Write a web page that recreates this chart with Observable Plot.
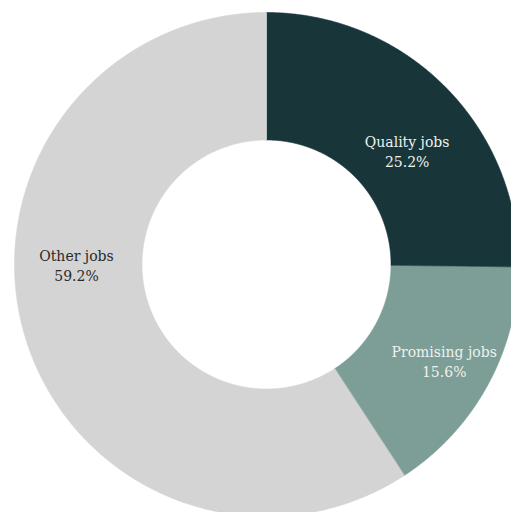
<!DOCTYPE html>
<html><head><meta charset="utf-8">
<script src="https://cdn.jsdelivr.net/npm/d3@7"></script>
<script src="https://cdn.jsdelivr.net/npm/@observablehq/plot@0.6"></script>
<style>html,body{margin:0;padding:0;background:#fff;overflow:hidden}</style>
</head><body><div id="chart"></div>
<script>
// Data
const categories = ["Quality jobs", "Promising jobs", "Other jobs"];
const shares = [25.2, 15.6, 59.2];
const shareLabels = ["25.2%", "15.6%", "59.2%"];

// Styles
const sliceColors = ["#18363a", "#7c9e96", "#d4d4d4"];
const lightText = "#eef1ee", darkText = "#2a2a2a";

// Layout
const W = 511, H = 512, cx = 266, cy = 264, R = 252, r0 = 124.5;
const labelAngleDeg = [51, 118.4, 270];
const labelRadius = [181, 202, 190];

const data = categories.map((c, i) => ({key: c, share: shares[i], label: shareLabels[i], i}));
const arcs = d3.pie().sort(null).value(d => d.share)(data);

const points = [];
for (const a of arcs) {
  const n = Math.max(2, Math.ceil((a.endAngle - a.startAngle) / (Math.PI / 720)));
  for (let k = 0; k <= n; k++) {
    const t = a.startAngle + (a.endAngle - a.startAngle) * k / n;
    points.push({key: a.data.key, x: R * Math.sin(t), y: R * Math.cos(t)});
  }
  for (let k = n; k >= 0; k--) {
    const t = a.startAngle + (a.endAngle - a.startAngle) * k / n;
    points.push({key: a.data.key, x: r0 * Math.sin(t), y: r0 * Math.cos(t)});
  }
}

const labels = data.map(d => {
  const t = labelAngleDeg[d.i] * Math.PI / 180;
  return {...d, x: labelRadius[d.i] * Math.sin(t), y: labelRadius[d.i] * Math.cos(t), text: d.key + "\n" + d.label};
});

const chart = Plot.plot({
  width: W, height: H, margin: 0,
  x: {domain: [-cx, W - cx], axis: null},
  y: {domain: [-(H - cy), cy], axis: null},
  color: {domain: categories, range: sliceColors},
  marks: [
    Plot.line(points, {x: "x", y: "y", z: "key", fill: "key", stroke: "key", strokeWidth: 0.6, curve: "linear-closed"}),
    Plot.text(labels.filter(d => d.i < 2), {x: "x", y: "y", text: "text", fill: lightText, fontFamily: "DejaVu Serif", fontSize: 14, lineHeight: 1.45}),
    Plot.text(labels.filter(d => d.i === 2), {x: "x", y: "y", text: "text", fill: darkText, fontFamily: "DejaVu Serif", fontSize: 14, lineHeight: 1.45})
  ]
});
document.getElementById("chart").appendChild(chart);
</script>
</body></html>
